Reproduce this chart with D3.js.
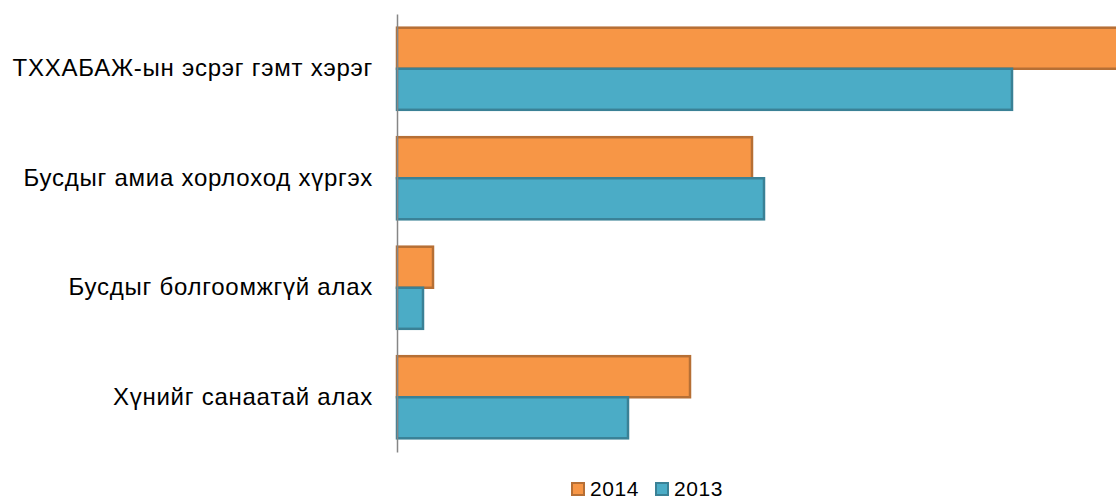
<!DOCTYPE html>
<html><head><meta charset="utf-8">
<script src="https://cdn.jsdelivr.net/npm/d3@7"></script>
<style>body{margin:0;background:#fff;overflow:hidden}svg{display:block}</style>
</head><body>
<svg id="c" width="1116" height="499"></svg>
<script>
const categories = ["ТХХАБАЖ-ын эсрэг гэмт хэрэг","Бусдыг амиа хорлоход хүргэх","Бусдыг болгоомжгүй алах","Хүнийг санаатай алах"];
const seriesNames = ["2014","2013"];
const values2014 = [760, 355, 36, 293];
const values2013 = [615, 367, 26, 231];

(function(){
const svg = d3.select("#c");
const plotLeft = 397, plotTop = 14, plotBottom = 452;
const x = d3.scaleLinear().domain([0, 800]).range([plotLeft, plotLeft + 800]);
const y = d3.scaleBand().domain(categories).range([plotTop, plotBottom]).paddingInner(0.25).paddingOuter(0.125);
const ys = d3.scaleBand().domain(seriesNames).range([0, y.bandwidth()]);
const fills = {"2014":"#F79646","2013":"#4BACC6"};
const strokes = {"2014":"#B66F35","2013":"#3A8196"};
const data = {"2014":values2014,"2013":values2013};

const g = svg.append("g");
categories.forEach((c,i)=>{
  seriesNames.forEach(s=>{
    g.append("rect")
      .attr("x", x(0))
      .attr("y", y(c)+ys(s))
      .attr("width", x(data[s][i]) - x(0))
      .attr("height", ys.bandwidth())
      .attr("fill", fills[s])
      .attr("stroke", strokes[s])
      .attr("stroke-width", 2.5);
  });
});

const yAxis = d3.axisLeft(y).tickSize(0).tickPadding(24);
const ax = svg.append("g").attr("transform",`translate(${plotLeft},0)`).call(yAxis);
ax.select(".domain").attr("stroke","#868686").attr("stroke-width",1.5);
ax.selectAll("text").attr("font-family","Liberation Sans, Arial, sans-serif").attr("font-size",24)
  .attr("letter-spacing","0.75px").attr("fill","#000");

const leg = svg.append("g").attr("font-family","Liberation Sans, Arial, sans-serif").attr("font-size",21);
const legX = [572, 656];
seriesNames.forEach((s,i)=>{
  leg.append("rect").attr("x",legX[i]).attr("y",483).attr("width",12).attr("height",12)
    .attr("fill",fills[s]).attr("stroke",strokes[s]).attr("stroke-width",2);
  leg.append("text").attr("x",legX[i]+18).attr("y",496).attr("letter-spacing","0.6px").text(s).attr("fill","#000");
});
})();
</script>
</body></html>
